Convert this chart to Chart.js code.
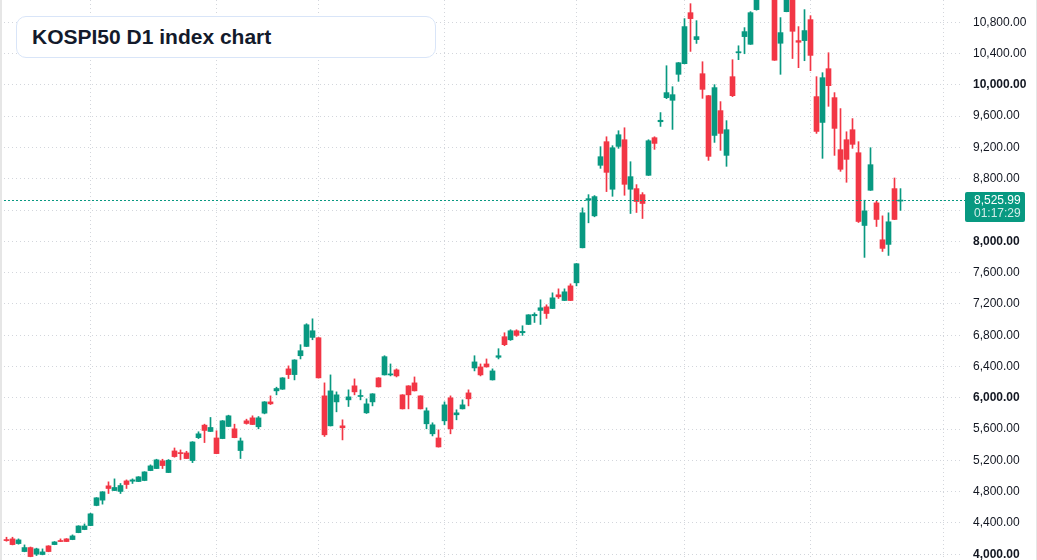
<!DOCTYPE html>
<html lang="en">
<head>
<meta charset="UTF-8">
<title>KOSPI50 D1 index chart</title>
<script src="https://cdn.jsdelivr.net/npm/chart.js"></script>
<style>
  html, body { margin: 0; padding: 0; background: #fff; }
  #wrap { position: relative; width: 1037px; height: 560px; overflow: hidden; }
  .edge { position: absolute; top: 0; bottom: 0; background: #e6e6e6; }
  #title {
    position: absolute; left: 16px; top: 16px; width: 420px; height: 42px;
    box-sizing: border-box; padding-left: 15px;
    border: 1px solid #d9e5f8; border-radius: 10px; background: #fff;
    font: bold 21px "Liberation Sans", Arial, sans-serif; color: #131a2b; line-height: 40px;
  }
</style>
</head>
<body>
<div id="wrap">
  <canvas id="kospiChart"></canvas>
  <div id="title">KOSPI50 D1 index chart</div>
  <div class="edge" style="left:0;width:2px"></div>
  <div class="edge" style="right:0;width:1px"></div>
</div>
<script>
// daily candles (oldest first)
const open = [
  4188,4197,4137,4035,4086,4001,3997,4107,4124,4175,
  4197,4188,4277,4316,4367,4624,4692,4875,4815,4803,
  4938,4934,4930,4943,5070,5096,5194,5045,5321,5296,
  5296,5198,5491,5651,5570,5487,5479,5634,5604,5326,
  5706,5744,5630,5804,5948,6089,6110,6370,6297,6538,
  6657,6772,6768,6025,5642,5948,5642,5974,6153,6017,
  5808,5948,6255,6293,6293,6357,6038,6153,6191,6025,
  5668,5540,5487,5706,6000,5783,5859,6063,6382,6395,
  6433,6229,6518,6781,6742,6857,6832,6938,7049,7117,
  7163,7142,7317,7244,7431,7470,7918,8526,8326,8972,
  9274,8666,9214,9299,8666,8674,8597,8844,9325,9529,
  9837,9803,10135,10271,10923,10579,10143,9862,9354,9671,
  9099,10105,10411,10617,10519,10962,11140,11230,11190,10532,
  10936,11130,10566,10566,10834,9850,9520,10207,9837,9172,
  9299,9427,9133,8203,8653,8492,8020,7961,8674,8515
];
const high = [
  4218,4218,4197,4120,4093,4078,4069,4110,4163,4197,
  4201,4248,4365,4388,4525,4725,4802,4926,4964,4905,
  4951,4964,4993,5056,5143,5215,5215,5211,5359,5334,
  5317,5440,5566,5663,5749,5579,5710,5778,5663,5487,
  5727,5770,5761,5952,6025,6136,6258,6408,6487,6679,
  6947,7010,6770,6191,6293,6076,5719,6102,6242,6102,
  5987,6053,6258,6538,6433,6370,6040,6155,6267,6027,
  5872,5681,5591,5948,6025,5847,5974,6102,6538,6433,
  6497,6370,6628,6832,6870,6870,6921,7063,7087,7253,
  7189,7342,7393,7393,7457,7717,8428,8597,8585,9210,
  9337,9223,9414,9452,9018,8725,8623,9299,9337,9646,
  10245,9977,10286,10847,11038,10821,10296,9865,10003,9786,
  9543,10322,10500,10732,10936,11180,11290,11320,11230,10860,
  11170,11160,10745,10962,10885,10105,10156,10411,9901,9697,
  9401,9569,9274,8526,9197,8514,8326,8365,8810,8674
];
const low = [
  4167,4120,4129,4032,3968,3984,3993,4032,4122,4161,
  4161,4186,4275,4314,4365,4620,4641,4777,4813,4777,
  4841,4905,4928,4940,5068,5094,5096,5043,5241,5211,
  5222,5172,5479,5428,5568,5285,5477,5632,5489,5224,
  5663,5657,5604,5795,5914,6038,6108,6246,6229,6497,
  6655,6742,6252,5506,5640,5821,5462,5889,6038,5974,
  5800,5897,6138,6291,6280,6267,5857,5859,6087,5857,
  5604,5513,5370,5655,5540,5719,5857,5897,6344,6280,
  6392,6227,6497,6666,6734,6785,6798,6936,6963,6938,
  7015,7140,7270,7242,7242,7431,7916,8237,8314,8933,
  8636,8576,9189,8589,8356,8369,8292,8842,9176,9469,
  9824,9431,10045,10269,10428,10530,9828,9035,9265,9163,
  8959,9850,10322,10398,10517,10955,11120,11150,10313,10135,
  10934,10337,10220,10309,10181,9380,9061,9726,9099,8895,
  8755,9189,8241,7795,8651,8190,7871,7820,8277,8395
];
const close = [
  4175,4124,4184,4086,3971,4069,4031,4035,4158,4163,
  4163,4235,4362,4362,4517,4722,4798,4841,4854,4879,
  4892,4951,4990,5053,5130,5207,5134,5202,5249,5287,
  5224,5436,5540,5583,5621,5287,5706,5770,5491,5449,
  5672,5659,5744,5948,5923,6119,6255,6297,6484,6602,
  6934,6857,6255,5527,6089,6038,5617,6012,6076,6029,
  5923,6051,6140,6526,6306,6280,5859,6038,6089,5859,
  5834,5655,5372,5910,5604,5808,5910,5987,6459,6293,
  6395,6344,6538,6679,6857,6798,6849,7061,7066,7151,
  7078,7278,7291,7355,7244,7714,8365,8546,8572,9082,
  8882,9197,9363,8729,8827,8509,8484,9286,9252,9548,
  9901,9875,10283,10745,10847,10617,9943,9086,9965,9380,
  9427,9862,10424,10681,10923,11140,11230,11190,10315,10668,
  11130,10685,10545,10694,10377,9405,10092,9990,9444,8921,
  9048,9240,8254,8390,8980,8280,7910,8250,8280,8525.99
];

// first candle of each month (vertical grid)
const monthStarts = [14, 35, 52, 73, 95, 113, 134];
const yTicks = [4000,4400,4800,5200,5600,6000,6400,6800,7200,7600,8000,8400,8800,9200,9600,10000,10400,10800];
const lastPrice = 8525.99;
const countdown = '01:17:29';

const upColor = '#089981';
const downColor = '#f23645';
const gridColor = '#d3d6dc';

const colors = close.map((c, i) => c >= open[i] ? upColor : downColor);
const fmt = v => v.toLocaleString('en-US', {minimumFractionDigits: 2, maximumFractionDigits: 2});

// last price line + label box + dotted right border
const lastPricePlugin = {
  id: 'lastPrice',
  afterDatasetsDraw(chart) {
    const {ctx, chartArea, scales: {y}} = chart;
    const py = Math.round(y.getPixelForValue(lastPrice)) + 0.5;
    const r = chartArea.right;
    ctx.save();
    ctx.lineWidth = 1;
    ctx.strokeStyle = gridColor;
    ctx.setLineDash([1, 3]);
    ctx.beginPath();
    ctx.moveTo(r + 0.5, 0);
    ctx.lineTo(r + 0.5, chart.height);
    ctx.stroke();

    ctx.strokeStyle = upColor;
    ctx.setLineDash([2, 2]);
    ctx.beginPath();
    ctx.moveTo(0, py);
    ctx.lineTo(r + 22, py);
    ctx.stroke();

    ctx.setLineDash([]);
    ctx.fillStyle = upColor;
    ctx.beginPath();
    ctx.roundRect(r + 22, py - 8.5, 60, 30, 2);
    ctx.fill();
    ctx.font = '12px "Liberation Sans", Arial, sans-serif';
    ctx.textBaseline = 'middle';
    ctx.textAlign = 'left';
    ctx.fillStyle = '#ffffff';
    ctx.fillText(fmt(lastPrice), r + 31, py);
    ctx.fillStyle = 'rgba(255,255,255,0.82)';
    ctx.fillText(countdown, r + 31, py + 13.5);
    ctx.restore();
  }
};

const ctx = document.getElementById('kospiChart').getContext('2d');
new Chart(ctx, {
  type: 'bar',
  data: {
    datasets: [
      {
        label: 'body',
        data: open.map((o, i) => ({x: i, y: [o, close[i]]})),
        backgroundColor: colors,
        borderWidth: 0,
        barThickness: 5,
        minBarLength: 1,
        grouped: false
      },
      {
        label: 'wick',
        data: low.map((l, i) => ({x: i, y: [l, high[i]]})),
        backgroundColor: colors,
        borderWidth: 0,
        barThickness: 1,
        grouped: false
      }
    ]
  },
  options: {
    responsive: true,
    maintainAspectRatio: false,
    devicePixelRatio: 1,
    animation: false,
    layout: { padding: 0 },
    plugins: { legend: { display: false }, tooltip: { enabled: false } },
    scales: {
      x: {
        type: 'linear',
        offset: false,
        min: -6.5 / 6,
        max: (943 - 6.5) / 6,
        afterBuildTicks: s => { s.ticks = monthStarts.map(v => ({value: v})); },
        afterFit: s => { s.height = 0; },
        grid: { color: gridColor, drawTicks: false, offset: false },
        border: { display: false, dash: [1, 3] },
        ticks: { display: false }
      },
      y: {
        position: 'right',
        min: 3927,
        max: 11085,
        afterBuildTicks: s => { s.ticks = yTicks.map(v => ({value: v})); },
        afterFit: s => { s.width = 94; s.paddingTop = 0; s.paddingBottom = 0; },
        grid: { color: gridColor, tickLength: 20, tickColor: gridColor, tickBorderDash: [1, 3] },
        border: { display: false, dash: [1, 3] },
        ticks: {
          padding: 10,
          color: '#131722',
          font: c => ({
            family: '"Liberation Sans", Arial, sans-serif',
            size: 12,
            weight: c.tick && c.tick.value % 2000 === 0 ? 'bold' : 'normal'
          }),
          callback: v => fmt(v)
        }
      }
    }
  },
  plugins: [lastPricePlugin]
});
</script>
</body>
</html>
